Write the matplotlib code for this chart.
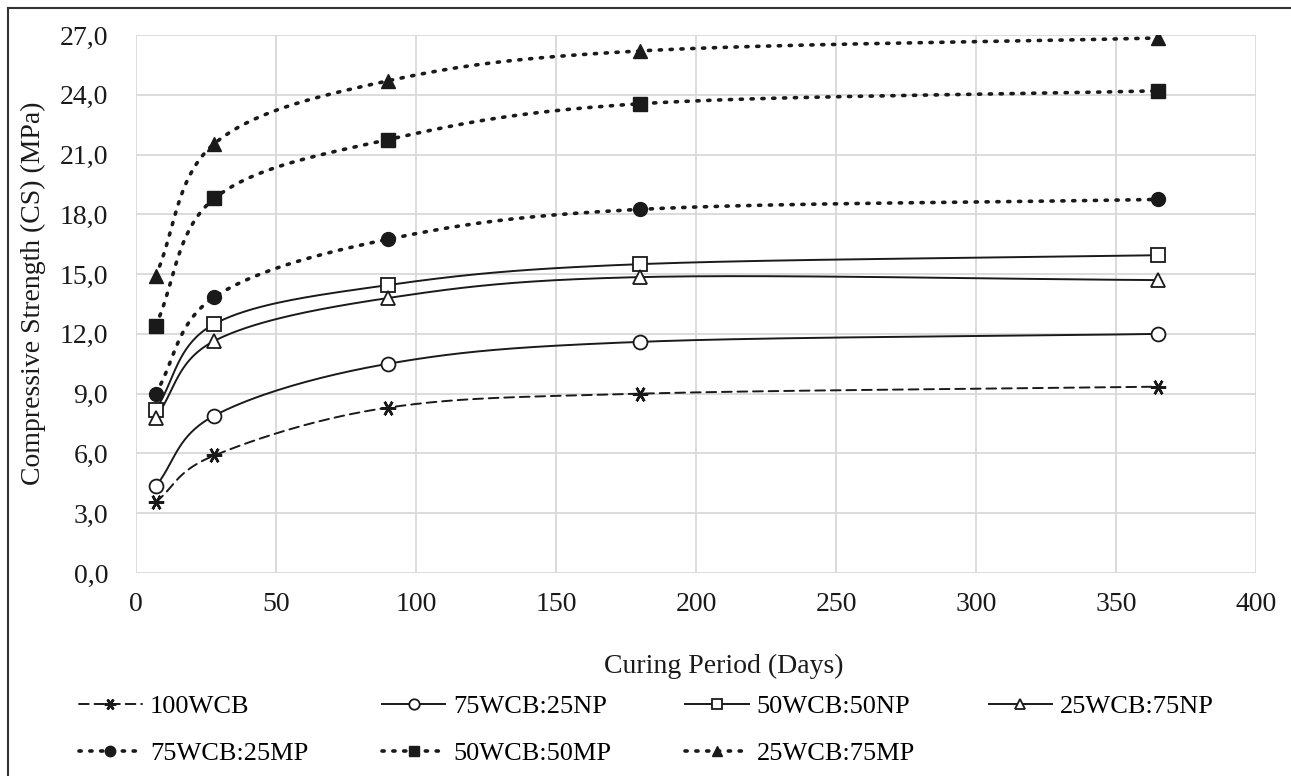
import numpy as np
import matplotlib
matplotlib.use("Agg")
from matplotlib import pyplot as plt
from matplotlib.lines import Line2D
from matplotlib.ticker import FuncFormatter

plt.rcParams['font.family'] = ['Liberation Serif', 'DejaVu Serif']

days = [7, 28, 90, 180, 365]
labels = ['100WCB', '75WCB:25NP', '50WCB:50NP', '25WCB:75NP',
          '75WCB:25MP', '50WCB:50MP', '25WCB:75MP']
wcb100 = [3.55, 5.9, 8.3, 9.0, 9.35]
np25 = [4.35, 7.9, 10.5, 11.6, 12.0]
np50 = [8.2, 12.5, 14.45, 15.5, 15.95]
np75 = [7.8, 11.65, 13.8, 14.85, 14.7]
mp25 = [9.0, 13.85, 16.75, 18.25, 18.75]
mp50 = [12.4, 18.8, 21.75, 23.55, 24.2]
mp75 = [14.9, 21.55, 24.7, 26.2, 26.85]
series = [wcb100, np25, np50, np75, mp25, mp50, mp75]

ink = '#1a1a1a'
dash = (0, (5, 3))
dot = (0, (0.6, 2.4))
styles = [
    dict(ls=dash, lw=1.4, marker=(6, 2, 90), mfc=ink, ms=11, mew=1.8),
    dict(ls='-', lw=1.4, marker='o', mfc='white', ms=10, mew=1.3),
    dict(ls='-', lw=1.4, marker='s', mfc='white', ms=10, mew=1.3),
    dict(ls='-', lw=1.4, marker='^', mfc='white', ms=10, mew=1.3),
    dict(ls=dot, lw=2.6, marker='o', mfc=ink, ms=10, mew=1.0),
    dict(ls=dot, lw=2.6, marker='s', mfc=ink, ms=10, mew=1.0),
    dict(ls=dot, lw=2.6, marker='^', mfc=ink, ms=10, mew=1.0),
]


def smooth(x, y, n=40):
    # Catmull-Rom curve through the points, like Excel's smoothed line
    x = np.asarray(x, float)
    y = np.asarray(y, float)
    px = np.concatenate([[2 * x[0] - x[1]], x, [2 * x[-1] - x[-2]]])
    py = np.concatenate([[2 * y[0] - y[1]], y, [2 * y[-1] - y[-2]]])
    xs, ys = [], []
    t = np.linspace(0, 1, n)
    for i in range(1, len(px) - 2):
        for p, out in ((px, xs), (py, ys)):
            p0, p1, p2, p3 = p[i - 1], p[i], p[i + 1], p[i + 2]
            m1 = (p2 - p0) / 6.0
            m2 = (p3 - p1) / 6.0
            c = ((1 - t) ** 3 * p1 + 3 * (1 - t) ** 2 * t * (p1 + m1)
                 + 3 * (1 - t) * t ** 2 * (p2 - m2) + t ** 3 * p2)
            out.extend(c)
    return np.array(xs), np.array(ys)


fig = plt.figure(figsize=(12.91, 7.76), dpi=100)
ax = fig.add_axes([136 / 1291, 1 - 573 / 776, 1120 / 1291, 538 / 776])

handles = []
for vals, st, lab in zip(series, styles, labels):
    sx, sy = smooth(days, vals)
    ax.plot(sx, sy, color=ink, linestyle=st['ls'], lw=st['lw'],
            dash_capstyle='round', zorder=3)
    ax.plot(days, vals, ls='none', marker=st['marker'], ms=st['ms'],
            mfc=st['mfc'], mec=ink, mew=st['mew'], zorder=4)
    handles.append(Line2D([], [], color=ink, linestyle=st['ls'], lw=st['lw'],
                          dash_capstyle='round', marker=st['marker'],
                          ms=st['ms'] * 0.75, mfc=st['mfc'], mec=ink,
                          mew=st['mew'], label=lab))

ax.set_xlim(0, 400)
ax.set_ylim(0, 27)
ax.set_xticks(np.arange(0, 401, 50))
ax.set_yticks(np.arange(0, 27.1, 3))
ax.yaxis.set_major_formatter(FuncFormatter(lambda v, p: f"{v:.1f}".replace('.', ',')))
ax.grid(True, color='#d9d9d9', lw=1.3)
ax.set_axisbelow(True)
for s in ax.spines.values():
    s.set_visible(False)
ax.tick_params(length=0, labelsize=20, colors=ink)
ax.tick_params(axis='y', pad=20)
ax.tick_params(axis='x', pad=14)
ax.set_xlabel('Curing Period (Days)', fontsize=20, color=ink)
ax.set_ylabel('Compressive Strength (CS) (MPa)', fontsize=20, color=ink)
ax.xaxis.set_label_coords(0.525, -0.15)
ax.yaxis.set_label_coords(-0.08, 0.52)

# row-major order for a 4-column legend
order = [0, 4, 1, 5, 2, 6, 3]
fig.legend(handles=[handles[i] for i in order], loc='upper left',
           bbox_to_anchor=(55 / 1291, 1 - 671 / 776),
           ncol=4, frameon=False, fontsize=19, handlelength=2.4,
           columnspacing=2.8, labelspacing=0.9, handletextpad=0.3)

fig.add_artist(Line2D([8 / 1291, 1], [1 - 8 / 776, 1 - 8 / 776],
                      transform=fig.transFigure, color='#333333', lw=1.5))
fig.add_artist(Line2D([8 / 1291, 8 / 1291], [0, 1 - 8 / 776],
                      transform=fig.transFigure, color='#333333', lw=1.5))

fig.savefig('out.png', dpi=100)
